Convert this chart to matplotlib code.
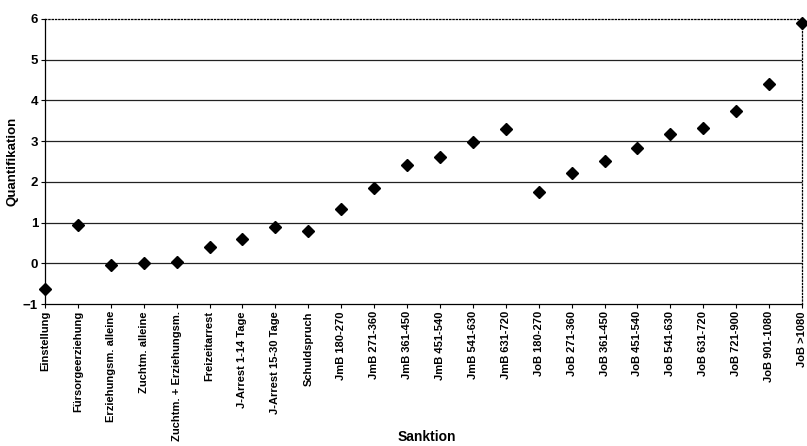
import matplotlib.pyplot as plt

plt.rcParams['font.family'] = ['Liberation Sans', 'DejaVu Sans']

sanktionen = [
    'Einstellung', 'Fürsorgeerziehung', 'Erziehungsm. alleine', 'Zuchtm. alleine',
    'Zuchtm. + Erziehungsm.', 'Freizeitarrest', 'J-Arrest 1-14 Tage',
    'J-Arrest 15-30 Tage', 'Schuldspruch', 'JmB 180-270', 'JmB 271-360',
    'JmB 361-450', 'JmB 451-540', 'JmB 541-630', 'JmB 631-720',
    'JoB 180-270', 'JoB 271-360', 'JoB 361-450', 'JoB 451-540',
    'JoB 541-630', 'JoB 631-720', 'JoB 721-900', 'JoB 901-1080', 'JoB >1080',
]
quantifikation = [
    -0.64, 0.94, -0.04, 0.02, 0.04, 0.39, 0.60, 0.89, 0.79, 1.34, 1.85,
    2.41, 2.62, 2.98, 3.29, 1.76, 2.21, 2.51, 2.83, 3.18, 3.33, 3.74, 4.41, 5.89,
]

fig = plt.figure(figsize=(8.07, 4.46), dpi=100)
ax = fig.add_axes([0.0558, 0.318, 0.938, 0.640])

x = list(range(len(sanktionen)))
ax.plot(x, quantifikation, linestyle='none', marker='D', markersize=6.5,
        color='black', clip_on=False, zorder=5)

ax.set_xlim(0, len(sanktionen) - 1)
ax.set_ylim(-1, 6)
ax.set_yticks(range(-1, 7))
ax.set_xticks(x)
ax.set_xticklabels(sanktionen, rotation=90, fontsize=8, fontweight='bold')
for lbl in ax.get_yticklabels():
    lbl.set_fontsize(9.5)
    lbl.set_fontweight('bold')

for y in range(0, 6):
    ax.axhline(y, color='#222222', linewidth=0.9, zorder=1)

ax.spines['top'].set_linestyle(':')
ax.spines['right'].set_linestyle(':')
for s in ax.spines.values():
    s.set_linewidth(0.9)
    s.set_color('black')

ax.tick_params(axis='both', direction='out', length=3, width=0.8, pad=2)

ax.set_ylabel('Quantifikation', fontsize=9.5, fontweight='bold', labelpad=3)
# x-axis title sits beside the long rotated labels, as in the original
fig.text(0.529, 0.021, 'Sanktion', fontsize=10, fontweight='bold',
         ha='center', va='center')

fig.savefig('out.png', dpi=100)
